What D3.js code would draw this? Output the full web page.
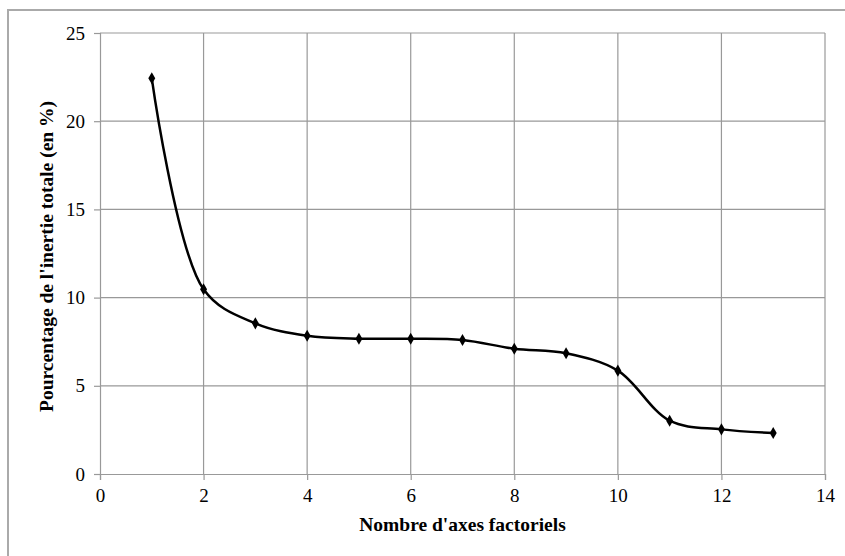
<!DOCTYPE html>
<html>
<head>
<meta charset="utf-8">
<script src="https://cdn.jsdelivr.net/npm/d3@7"></script>
<style>
  html, body { margin: 0; padding: 0; background: #fff; }
  svg { display: block; }
  svg text { font-family: "Liberation Serif", "Times New Roman", Times, "DejaVu Serif", serif; fill: #000; }
</style>
</head>
<body>
<script>
const axes = [1, 2, 3, 4, 5, 6, 7, 8, 9, 10, 11, 12, 13];
const inertia = [22.43, 10.47, 8.54, 7.84, 7.67, 7.67, 7.6, 7.1, 6.84, 5.86, 3.02, 2.53, 2.32];
const xTicks = [0, 2, 4, 6, 8, 10, 12, 14];
const yTicks = [0, 5, 10, 15, 20, 25];
const xTitle = "Nombre d'axes factoriels";
const yTitle = "Pourcentage de l'inertie totale (en %)";

const W = 845, H = 556;
const svg = d3.select("body").append("svg").attr("width", W).attr("height", H);

// outer chart border
svg.append("path")
  .attr("d", `M8,${H} L8,10 L${W},10`)
  .attr("fill", "none").attr("stroke", "#aaaaaa").attr("stroke-width", 2);

const x = d3.scaleLinear().domain([0, 14]).range([100, 825]);
const y = d3.scaleLinear().domain([0, 25]).range([474, 33]);
const grid = "#999999";
const serif = "Liberation Serif, Times New Roman, serif";

// gridlines
svg.append("g").selectAll("line.v").data(xTicks.slice(1)).join("line")
  .attr("x1", d => x(d)).attr("x2", d => x(d)).attr("y1", y(25)).attr("y2", y(0))
  .attr("stroke", grid).attr("stroke-width", 1.2);
svg.append("g").selectAll("line.h").data(yTicks.slice(1)).join("line")
  .attr("x1", x(0)).attr("x2", x(14)).attr("y1", d => y(d)).attr("y2", d => y(d))
  .attr("stroke", grid).attr("stroke-width", 1.2);

// axes
const xAxis = svg.append("g").attr("transform", `translate(0,${y(0)})`)
  .call(d3.axisBottom(x).tickValues(xTicks).tickSize(6).tickPadding(9).tickFormat(d3.format("d")));
const yAxis = svg.append("g").attr("transform", `translate(${x(0)},0)`)
  .call(d3.axisLeft(y).tickValues(yTicks).tickSize(6).tickPadding(9).tickFormat(d3.format("d")));
[xAxis, yAxis].forEach(g => {
  g.attr("font-family", serif).attr("font-size", 19);
  g.select(".domain").attr("stroke", grid).attr("stroke-width", 1.2);
  g.selectAll(".tick line").attr("stroke", grid).attr("stroke-width", 1.2);
  g.selectAll(".tick text").attr("fill", "#000");
});

// line
const line = d3.line()
  .x((d, i) => x(axes[i]))
  .y(d => y(d))
  .curve(d3.curveCatmullRom.alpha(0.5));
svg.append("path").datum(inertia)
  .attr("d", line).attr("fill", "none").attr("stroke", "#000").attr("stroke-width", 2.5);

// markers
const diamond = d3.symbol().type(d3.symbolDiamond).size(42);
svg.append("g").selectAll("path").data(inertia).join("path")
  .attr("d", diamond)
  .attr("transform", (d, i) => `translate(${x(axes[i])},${y(d)})`)
  .attr("fill", "#000");

// titles
svg.append("text")
  .attr("x", (x(0) + x(14)) / 2).attr("y", 531)
  .attr("text-anchor", "middle")
  .attr("font-size", 19.5).attr("font-weight", "bold")
  .text(xTitle);
svg.append("text")
  .attr("transform", `translate(53,${(y(0) + y(25)) / 2 + 3}) rotate(-90)`)
  .attr("text-anchor", "middle")
  .attr("font-size", 19.5).attr("font-weight", "bold")
  .text(yTitle);
</script>
</body>
</html>
